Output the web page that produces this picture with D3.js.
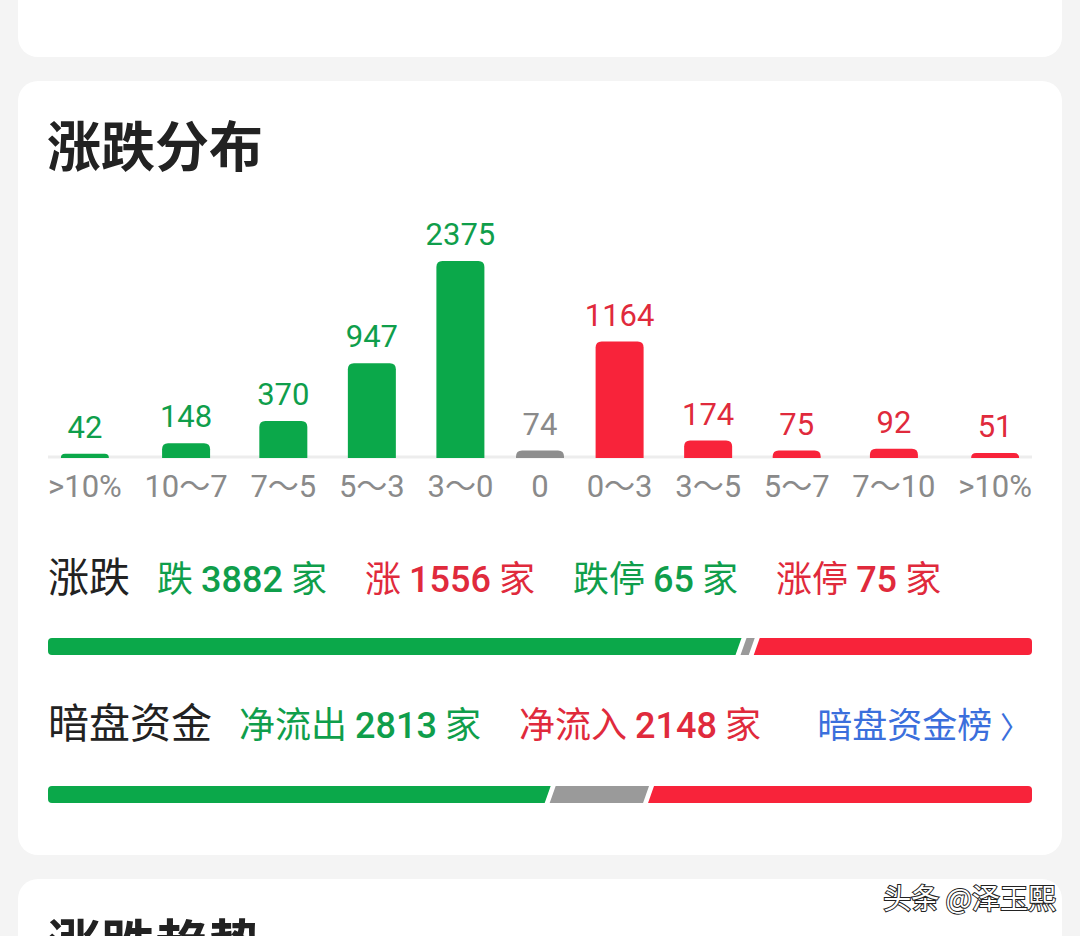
<!DOCTYPE html>
<html>
<head>
<meta charset="utf-8">
<script src="https://cdn.jsdelivr.net/npm/d3@7"></script>
<style>
  body { margin: 0; background: #f4f4f4; }
  svg { display: block; }
</style>
</head>
<body>
<div id="chart"></div>
<script>
// Data
const ranges = ['>10%', '10～7', '7～5', '5～3', '3～0', '0', '0～3', '3～5', '5～7', '7～10', '>10%']
const counts = [42, 148, 370, 947, 2375, 74, 1164, 174, 75, 92, 51]
const sides = ['down', 'down', 'down', 'down', 'down', 'flat', 'up', 'up', 'up', 'up', 'up']

const statNames = ['跌', '涨', '跌停', '涨停']
const statValues = [3882, 1556, 65, 75]
const statSides = ['down', 'up', 'down', 'up']

const fundNames = ['净流出', '净流入']
const fundValues = [2813, 2148]
const fundSides = ['down', 'up']

async function draw() {
  let dimensions = {
    width: 1080,
    height: 936,
    left: 48,
    right: 1032,
    baseline: 458,
    barWidth: 48,
  }

  const barColor = { down: '#0ba84a', up: '#f8233a', flat: '#8e8e8e' }
  const textColor = { down: '#0f9e4b', up: '#e02a3c', flat: '#8a8a8a' }
  const cjk = "'Noto Sans CJK SC', sans-serif"
  const num = "Roboto, 'Noto Sans CJK SC', sans-serif"

  const svg = d3.select('#chart')
    .append('svg')
    .attr('width', dimensions.width)
    .attr('height', dimensions.height)

  // cards
  const cards = [[-40, 97], [81, 774], [879, 200]]
  svg.selectAll('rect.card')
    .data(cards)
    .join('rect')
    .attr('class', 'card')
    .attr('x', 18)
    .attr('y', d => d[0])
    .attr('width', 1044)
    .attr('height', d => d[1])
    .attr('rx', 20)
    .attr('fill', '#fff')

  svg.append('text')
    .attr('x', 47)
    .attr('y', 167)
    .attr('font-family', cjk)
    .attr('font-size', 54)
    .attr('font-weight', 700)
    .attr('fill', '#222')
    .text('涨跌分布')

  // next card's title, cut by the bottom of the screen
  svg.append('text')
    .attr('x', 47)
    .attr('y', 965)
    .attr('font-family', cjk)
    .attr('font-size', 54)
    .attr('font-weight', 700)
    .attr('fill', '#222')
    .text('涨跌趋势')

  // axis labels first, so their widths can place the columns
  const idx = d3.range(ranges.length)
  const labels = svg.append('g')
    .selectAll('text')
    .data(idx)
    .join('text')
    .attr('y', 497)
    .attr('text-anchor', 'middle')
    .attr('font-family', num)
    .attr('font-size', 31)
    .attr('fill', '#8a8a8a')
    .text(i => ranges[i])

  const itemW = labels.nodes().map(n => Math.max(n.getComputedTextLength(), dimensions.barWidth))
  const gap = (dimensions.right - dimensions.left - d3.sum(itemW)) / (itemW.length - 1)
  let cursor = dimensions.left
  const centers = itemW.map(w => {
    const c = cursor + w / 2
    cursor += w + gap
    return c
  })

  // Scales
  const xScale = d3.scaleOrdinal()
    .domain(idx)
    .range(centers)

  const hScale = d3.scaleLinear()
    .domain([0, 1970])
    .range([0, 197])
    .clamp(true)

  labels.attr('x', i => xScale(i))

  svg.append('line')
    .attr('x1', dimensions.left)
    .attr('x2', dimensions.right)
    .attr('y1', dimensions.baseline - 1)
    .attr('y2', dimensions.baseline - 1)
    .attr('stroke', '#ededed')
    .attr('stroke-width', 3)

  const barPath = i => {
    const h = Math.max(hScale(counts[i]), 3)
    const x0 = xScale(i) - dimensions.barWidth / 2
    const x1 = x0 + dimensions.barWidth
    const y0 = dimensions.baseline - h
    const y1 = dimensions.baseline
    const r = Math.min(6, h)
    return `M${x0},${y1}V${y0 + r}Q${x0},${y0} ${x0 + r},${y0}H${x1 - r}Q${x1},${y0} ${x1},${y0 + r}V${y1}Z`
  }

  svg.append('g')
    .selectAll('path')
    .data(idx)
    .join('path')
    .attr('d', barPath)
    .attr('fill', i => barColor[sides[i]])

  svg.append('g')
    .selectAll('text')
    .data(idx)
    .join('text')
    .attr('x', i => xScale(i))
    .attr('y', i => dimensions.baseline - Math.max(hScale(counts[i]), 3) - 16)
    .attr('text-anchor', 'middle')
    .attr('font-family', num)
    .attr('font-size', 31)
    .attr('font-weight', 400)
    .attr('fill', i => textColor[sides[i]])
    .text(i => counts[i])

  // rows of counts
  const row = (y, title, names, values, rowSides, startGap) => {
    const t = svg.append('text')
      .attr('x', dimensions.left)
      .attr('y', y)
      .attr('font-family', cjk)
      .attr('font-size', 41)
      .attr('fill', '#222')
      .text(title)
    let x = dimensions.left + t.node().getComputedTextLength() + startGap
    names.forEach((n, i) => {
      const g = svg.append('text')
        .attr('x', x)
        .attr('y', y)
        .attr('font-size', 36)
        .attr('fill', textColor[rowSides[i]])
      g.append('tspan').attr('font-family', cjk).text(n + ' ')
      g.append('tspan').attr('font-family', num).attr('font-weight', 500).text(values[i])
      g.append('tspan').attr('font-family', cjk).text(' 家')
      x += g.node().getComputedTextLength() + 38
    })
  }

  row(592, '涨跌', statNames, statValues, statSides, 27)
  row(738, '暗盘资金', fundNames, fundValues, fundSides, 27)

  const link = svg.append('text')
    .attr('x', 1030)
    .attr('y', 738)
    .attr('text-anchor', 'end')
    .attr('font-family', cjk)
    .attr('font-size', 35)
    .attr('fill', '#3b6fdc')
  link.append('tspan').text('暗盘资金榜 ')
  link.append('tspan').text('〉').attr('font-size', 30)

  // ratio bars
  const total = d3.sum(counts)
  const breadth = ['down', 'flat', 'up'].map(s => d3.sum(idx.filter(i => sides[i] === s), i => counts[i]))
  const fundParts = [fundValues[0], total - fundValues[0] - fundValues[1], fundValues[1]]

  const pScale = d3.scaleLinear()
    .domain([0, total])
    .range([dimensions.left, dimensions.right])

  const ratioBar = (y, parts, id) => {
    const h = 17
    const skew = 6
    const half = 2.5
    svg.append('clipPath')
      .attr('id', id)
      .append('rect')
      .attr('x', dimensions.left)
      .attr('y', y)
      .attr('width', dimensions.right - dimensions.left)
      .attr('height', h)
      .attr('rx', 4)
    const stops = d3.cumsum([0, ...parts])
    const keys = ['down', 'flat', 'up']
    svg.append('g')
      .attr('clip-path', `url(#${id})`)
      .selectAll('path')
      .data(parts)
      .join('path')
      .attr('d', (d, i) => {
        const a = pScale(stops[i])
        const b = pScale(stops[i + 1])
        const la = i === 0 ? a - 20 : a + half
        const lb = i === parts.length - 1 ? b + 20 : b - half
        return `M${la - skew / 2},${y + h}L${la + skew / 2},${y}L${lb + skew / 2},${y}L${lb - skew / 2},${y + h}Z`
      })
      .attr('fill', (d, i) => keys[i] === 'flat' ? '#9a9a9a' : barColor[keys[i]])
  }

  ratioBar(638, breadth, 'clip-a')
  ratioBar(786, fundParts, 'clip-b')

  // watermark
  svg.append('text')
    .attr('x', 1056)
    .attr('y', 909)
    .attr('text-anchor', 'end')
    .attr('font-family', cjk)
    .attr('font-size', 28)
    .attr('fill', '#fff')
    .attr('stroke', '#222')
    .attr('stroke-width', 2)
    .attr('paint-order', 'stroke')
    .text('头条 @泽玉熙')
}

draw()
</script>
</body>
</html>
